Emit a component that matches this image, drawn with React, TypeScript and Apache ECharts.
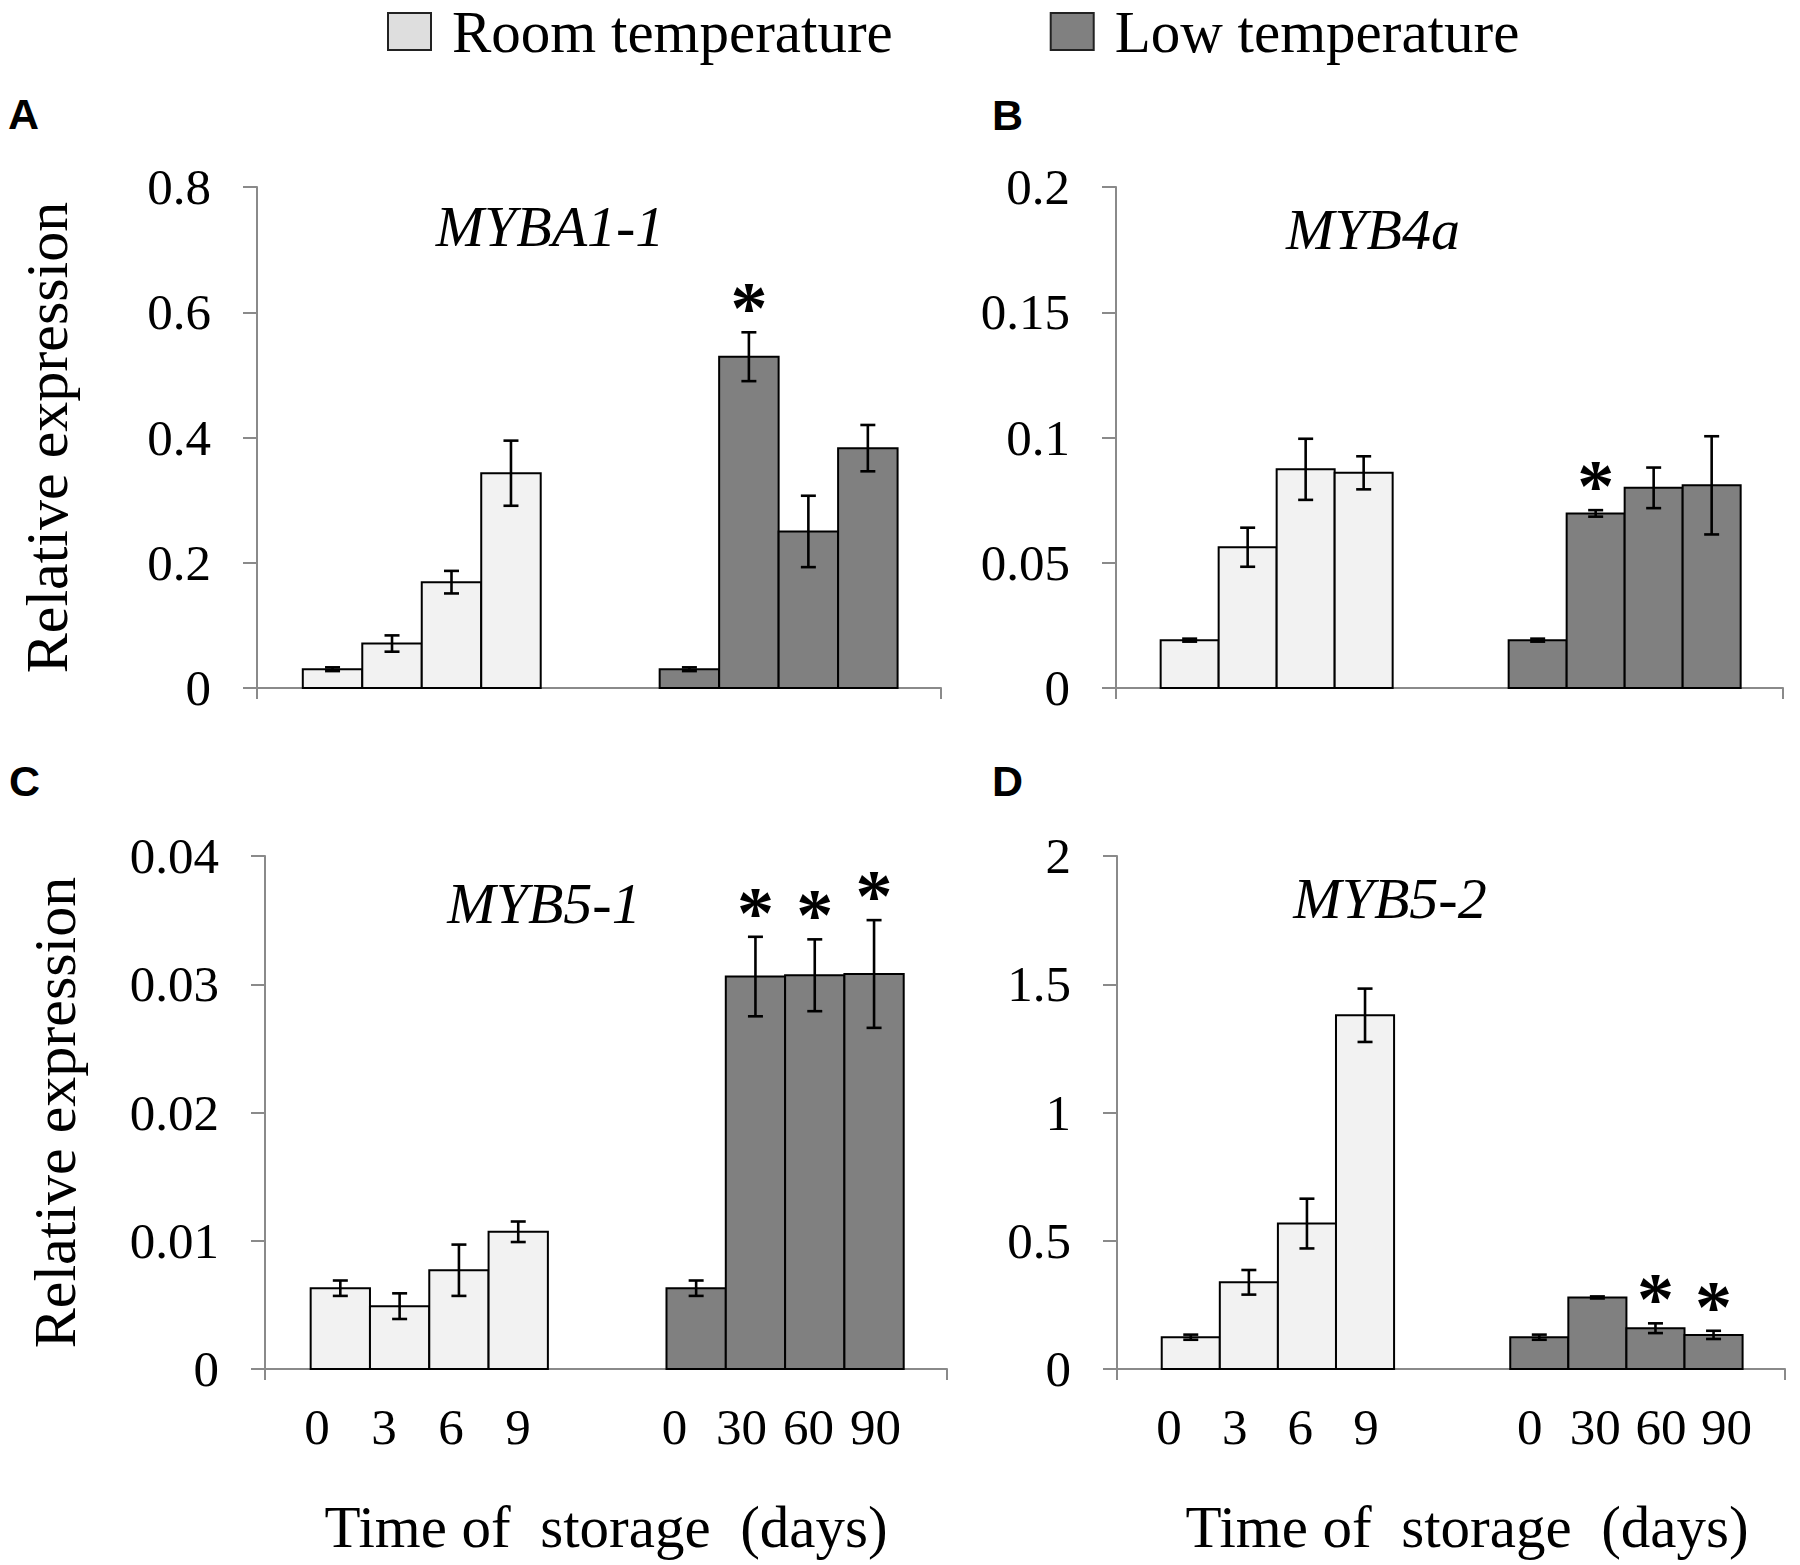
import React, { useEffect, useRef } from "react";
import * as echarts from "echarts";

// ---------------- data ----------------
const SERIES_NAMES = ["Room temperature", "Low temperature"];
const ROOM_DAYS = ["0", "3", "6", "9"];
const LOW_DAYS = ["0", "30", "60", "90"];
const GENES = ["MYBA1-1", "MYB4a", "MYB5-1", "MYB5-2"];
const PANEL_LETTERS = ["A", "B", "C", "D"];
const X_TITLE = "Time of  storage  (days)";
const Y_TITLE = "Relative expression";

const Y_MAX = [0.8, 0.2, 0.04, 2];
const Y_STEP = [0.2, 0.05, 0.01, 0.5];

// A  MYBA1-1
const A_ROOM = [0.03, 0.071, 0.169, 0.343];
const A_ROOM_ERR = [0.003, 0.013, 0.018, 0.052];
const A_LOW = [0.03, 0.529, 0.25, 0.383];
const A_LOW_ERR = [0.003, 0.039, 0.057, 0.037];
const A_LOW_SIG = [0, 1, 0, 0];

// B  MYB4a
const B_ROOM = [0.0191, 0.0562, 0.0873, 0.0859];
const B_ROOM_ERR = [0.0006, 0.0078, 0.0122, 0.0066];
const B_LOW = [0.0191, 0.0697, 0.0799, 0.0809];
const B_LOW_ERR = [0.0006, 0.0013, 0.0081, 0.0196];
const B_LOW_SIG = [0, 1, 0, 0];

// C  MYB5-1
const C_ROOM = [0.0063, 0.0049, 0.0077, 0.0107];
const C_ROOM_ERR = [0.0006, 0.001, 0.002, 0.0008];
const C_LOW = [0.0063, 0.0306, 0.0307, 0.0308];
const C_LOW_ERR = [0.0006, 0.0031, 0.0028, 0.0042];
const C_LOW_SIG = [0, 1, 1, 1];

// D  MYB5-2
const D_ROOM = [0.124, 0.338, 0.567, 1.379];
const D_ROOM_ERR = [0.01, 0.048, 0.097, 0.104];
const D_LOW = [0.124, 0.279, 0.159, 0.133];
const D_LOW_ERR = [0.01, 0.004, 0.019, 0.016];
const D_LOW_SIG = [0, 0, 1, 1];

const PANELS = [
  { room: A_ROOM, roomErr: A_ROOM_ERR, low: A_LOW, lowErr: A_LOW_ERR, lowSig: A_LOW_SIG },
  { room: B_ROOM, roomErr: B_ROOM_ERR, low: B_LOW, lowErr: B_LOW_ERR, lowSig: B_LOW_SIG },
  { room: C_ROOM, roomErr: C_ROOM_ERR, low: C_LOW, lowErr: C_LOW_ERR, lowSig: C_LOW_SIG },
  { room: D_ROOM, roomErr: D_ROOM_ERR, low: D_LOW, lowErr: D_LOW_ERR, lowSig: D_LOW_SIG },
];

// ---------------- layout / style ----------------
const SERIF = "'Liberation Serif', 'Times New Roman', serif";
const SANS = "'Liberation Sans', Arial, sans-serif";
const AXIS_GRAY = "#8a8a8a";
const LIGHT = "#f2f2f2";
const DARK = "#808080";
const GAP_SLOTS = 2;
const XMIN = -1.27;
const XMAX = 10.23;

const GRIDS = [
  { left: 257, top: 187, width: 684, height: 501 },
  { left: 1116, top: 187, width: 667, height: 501 },
  { left: 265, top: 856, width: 682, height: 513 },
  { left: 1117, top: 856, width: 668, height: 513 },
];
const LETTER_POS = [
  [8, 114],
  [992, 115],
  [9, 781],
  [992, 781],
];
const GENE_POS = [
  [550, 226],
  [1373, 229],
  [544, 903],
  [1390, 898],
];
// tick labels are set as an evenly spread row under each group (as in the source figure)
const LABEL_SPREAD = 1.13;
const LABEL_SHIFT = [
  [0, 0],
  [0, 0],
  [-0.2, -0.17],
  [-0.18, 0.03],
];
const X_NAME_PAD = [0, 0, 0, 32];

const xRoom = (i: number) => i;
const xLow = (i: number) => ROOM_DAYS.length + GAP_SLOTS + i;

function labelPositions(panel: number) {
  const items: { pos: number; text: string }[] = [];
  const roomMid = (xRoom(0) + xRoom(ROOM_DAYS.length - 1)) / 2;
  const lowMid = (xLow(0) + xLow(LOW_DAYS.length - 1)) / 2;
  ROOM_DAYS.forEach((t, k) => {
    items.push({ pos: roomMid + LABEL_SHIFT[panel][0] + (xRoom(k) - roomMid) * LABEL_SPREAD, text: t });
  });
  LOW_DAYS.forEach((t, k) => {
    items.push({ pos: lowMid + LABEL_SHIFT[panel][1] + (xLow(k) - lowMid) * LABEL_SPREAD, text: t });
  });
  return items;
}

function makeRender(fill: string) {
  return (_params: any, api: any) => {
    const x = api.value(0);
    const v = api.value(1);
    const e = api.value(2);
    const sig = api.value(3);
    const p0 = api.coord([x - 0.5, v]);
    const p1 = api.coord([x + 0.5, 0]);
    const hi = api.coord([x, v + e]);
    const lo = api.coord([x, v - e]);
    const cap = 7.5;
    const ls = { stroke: "#000", lineWidth: 2.6 };
    const children: any[] = [
      {
        type: "rect",
        shape: { x: p0[0], y: p0[1], width: p1[0] - p0[0], height: p1[1] - p0[1] },
        style: { fill, stroke: "#000", lineWidth: 2 },
      },
      { type: "line", shape: { x1: hi[0], y1: hi[1], x2: lo[0], y2: lo[1] }, style: ls },
      { type: "line", shape: { x1: hi[0] - cap, y1: hi[1], x2: hi[0] + cap, y2: hi[1] }, style: ls },
      { type: "line", shape: { x1: lo[0] - cap, y1: lo[1], x2: lo[0] + cap, y2: lo[1] }, style: ls },
    ];
    if (sig) {
      children.push({
        type: "text",
        x: hi[0],
        y: hi[1] - 24,
        style: {
          text: "*",
          fontSize: 74,
          fontWeight: "bold",
          fontFamily: SERIF,
          fill: "#000",
          align: "center",
          verticalAlign: "middle",
        },
      });
    }
    return { type: "group", children };
  };
}

function buildOption() {
  const grid: any[] = [];
  const xAxis: any[] = [];
  const yAxis: any[] = [];
  const series: any[] = [];
  const graphic: any[] = [];

  PANELS.forEach((p, i) => {
    grid.push({ ...GRIDS[i], containLabel: false });
    const bottom = i >= 2;
    const labels = labelPositions(i);
    xAxis.push({
      gridIndex: i,
      type: "value",
      min: XMIN,
      max: XMAX,
      axisLine: { show: true, onZero: false, lineStyle: { color: AXIS_GRAY, width: 2 } },
      axisTick: {
        show: true,
        customValues: [XMIN, XMAX],
        length: 11,
        lineStyle: { color: AXIS_GRAY, width: 2 },
      },
      axisLabel: {
        show: bottom,
        customValues: labels.map((l) => l.pos),
        formatter: (v: number) => {
          let best = labels[0];
          labels.forEach((l) => {
            if (Math.abs(l.pos - v) < Math.abs(best.pos - v)) best = l;
          });
          return best.text;
        },
        fontSize: 51,
        fontFamily: SERIF,
        color: "#000",
        margin: 32,
      },
      splitLine: { show: false },
      name: bottom ? X_TITLE : "",
      nameLocation: "middle",
      nameGap: 128,
      nameTextStyle: {
        fontSize: 59,
        fontFamily: SERIF,
        color: "#000",
        padding: i === 3 ? X_NAME_PAD : 0,
      },
    });
    yAxis.push({
      gridIndex: i,
      type: "value",
      min: 0,
      max: Y_MAX[i],
      interval: Y_STEP[i],
      axisLine: { show: true, onZero: false, lineStyle: { color: AXIS_GRAY, width: 2 } },
      axisTick: { show: true, length: 14, lineStyle: { color: AXIS_GRAY, width: 2 } },
      axisLabel: { fontSize: 51, fontFamily: SERIF, color: "#000", margin: 46 },
      splitLine: { show: false },
      name: i % 2 === 0 ? Y_TITLE : "",
      nameLocation: "middle",
      nameRotate: 90,
      nameGap: 180,
      nameTextStyle: { fontSize: 60, fontFamily: SERIF, color: "#000" },
    });
    series.push({
      type: "custom",
      name: SERIES_NAMES[0],
      xAxisIndex: i,
      yAxisIndex: i,
      itemStyle: { color: LIGHT },
      encode: { x: 0, y: 1 },
      renderItem: makeRender(LIGHT),
      data: p.room.map((v, k) => [xRoom(k), v, p.roomErr[k], 0]),
    });
    series.push({
      type: "custom",
      name: SERIES_NAMES[1],
      xAxisIndex: i,
      yAxisIndex: i,
      itemStyle: { color: DARK },
      encode: { x: 0, y: 1 },
      renderItem: makeRender(DARK),
      data: p.low.map((v, k) => [xLow(k), v, p.lowErr[k], p.lowSig[k]]),
    });
    graphic.push({
      type: "text",
      x: LETTER_POS[i][0],
      y: LETTER_POS[i][1],
      style: {
        text: PANEL_LETTERS[i],
        fontSize: 43,
        fontWeight: "bold",
        fontFamily: SANS,
        fill: "#000",
        align: "left",
        verticalAlign: "middle",
      },
    });
    graphic.push({
      type: "text",
      x: GENE_POS[i][0],
      y: GENE_POS[i][1],
      style: {
        text: GENES[i],
        fontSize: 58,
        fontStyle: "italic",
        fontFamily: SERIF,
        fill: "#000",
        align: "center",
        verticalAlign: "middle",
      },
    });
  });

  return {
    animation: false,
    backgroundColor: "#fff",
    legend: {
      left: 387,
      top: 2,
      padding: 0,
      itemWidth: 43,
      itemHeight: 37,
      itemGap: 157,
      selectedMode: false,
      textStyle: { fontSize: 59, fontFamily: SERIF, color: "#000", padding: [0, 0, 0, 16] },
      data: [
        {
          name: SERIES_NAMES[0],
          icon: "rect",
          itemStyle: { color: "#dedede", borderColor: "#222", borderWidth: 2 },
        },
        {
          name: SERIES_NAMES[1],
          icon: "rect",
          itemStyle: { color: DARK, borderColor: "#222", borderWidth: 2 },
        },
      ],
    },
    grid,
    xAxis,
    yAxis,
    series,
    graphic,
  };
}

export default function App() {
  const ref = useRef<HTMLDivElement>(null);
  useEffect(() => {
    if (!ref.current) return;
    const chart = echarts.init(ref.current, undefined, { renderer: "svg" });
    chart.setOption(buildOption() as any);
    return () => chart.dispose();
  }, []);
  return (
    <div
      ref={ref}
      style={{ position: "fixed", left: 0, top: 0, width: 1800, height: 1565, background: "#fff" }}
    />
  );
}
